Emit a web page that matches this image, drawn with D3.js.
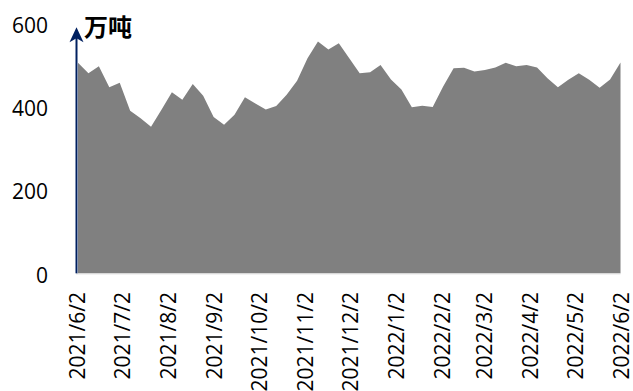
<!DOCTYPE html>
<html>
<head>
<meta charset="utf-8">
<script src="https://cdn.jsdelivr.net/npm/d3@7"></script>
<style>
  html, body { margin: 0; padding: 0; background: #fff; }
  svg { display: block; }
</style>
</head>
<body>
<svg id="chart" width="633" height="391"></svg>
<script>
// Weekly observations (万吨)
const dates = [
  "2021-06-02","2021-06-09","2021-06-16","2021-06-23","2021-06-30",
  "2021-07-07","2021-07-14","2021-07-21","2021-07-28",
  "2021-08-04","2021-08-11","2021-08-18","2021-08-25",
  "2021-09-01","2021-09-08","2021-09-15","2021-09-22","2021-09-29",
  "2021-10-06","2021-10-13","2021-10-20","2021-10-27",
  "2021-11-03","2021-11-10","2021-11-17","2021-11-24",
  "2021-12-01","2021-12-08","2021-12-15","2021-12-22","2021-12-29",
  "2022-01-05","2022-01-12","2022-01-19","2022-01-26",
  "2022-02-02","2022-02-09","2022-02-16","2022-02-23",
  "2022-03-02","2022-03-09","2022-03-16","2022-03-23","2022-03-30",
  "2022-04-06","2022-04-13","2022-04-20","2022-04-27",
  "2022-05-04","2022-05-11","2022-05-18","2022-05-25",
  "2022-06-01"
];
const values = [
  506, 481, 498, 447, 458,
  391, 373, 352, 393,
  435, 417, 455, 427,
  376, 357, 381, 423, 408,
  394, 402, 429, 463,
  517, 557, 538, 553,
  517, 481, 483, 501, 466,
  442, 399, 403, 400,
  449, 493, 494, 485,
  489, 495, 506, 498, 501,
  495, 469, 447, 465,
  481, 465, 446, 466,
  507
];
const xTickLabels = [
  "2021/6/2","2021/7/2","2021/8/2","2021/9/2","2021/10/2","2021/11/2",
  "2021/12/2","2022/1/2","2022/2/2","2022/3/2","2022/4/2","2022/5/2","2022/6/2"
];
const yTicks = [0, 200, 400, 600];
const unitLabel = "万吨";

const parseIso = d3.timeParse("%Y-%m-%d");
const parseTick = d3.timeParse("%Y/%m/%d");
const series = dates.map((d, i) => ({ date: parseIso(d), value: values[i] }));
const tickDates = xTickLabels.map(parseTick);

const svg = d3.select("#chart");
const font = "'Open Sans', 'Liberation Sans', sans-serif";

const x = d3.scaleTime()
  .domain([tickDates[0], tickDates[tickDates.length - 1]])
  .range([78, 622]);
const y = d3.scaleLinear().domain([0, 600]).range([273.3, 23.7]);

// filled area
const area = d3.area()
  .x(d => x(d.date))
  .y0(y(0))
  .y1(d => y(d.value));
svg.append("path")
  .datum(series)
  .attr("d", area)
  .attr("fill", "#808080");

// horizontal baseline
svg.append("line")
  .attr("x1", 76).attr("x2", x(series[series.length - 1].date))
  .attr("y1", y(0) + 0.5).attr("y2", y(0) + 0.5)
  .attr("stroke", "#d4d4d4").attr("stroke-width", 1);

// y axis tick labels
const yAxis = d3.axisLeft(y).tickValues(yTicks).tickSize(0).tickPadding(0);
const yg = svg.append("g").attr("transform", "translate(48,0)").call(yAxis);
yg.select(".domain").remove();
yg.selectAll("text")
  .attr("font-family", font)
  .attr("font-size", 21)
  .attr("fill", "#000")
  .attr("dy", "0.42em");

// x axis with rotated date labels
const xAxis = d3.axisBottom(x).tickValues(tickDates).tickSize(0).tickPadding(0)
  .tickFormat((d, i) => xTickLabels[i]);
const xg = svg.append("g").attr("transform", "translate(0,292)").call(xAxis);
xg.select(".domain").remove();
xg.selectAll(".tick text")
  .attr("font-family", font)
  .attr("font-size", 21)
  .attr("fill", "#000")
  .attr("text-anchor", "end")
  .attr("y", 0)
  .attr("dy", 0)
  .attr("transform", "translate(6.5,0) rotate(-90)");

// y axis line with arrowhead
const axisX = 76.5;
const tipY = 27.3;
svg.append("line")
  .attr("x1", axisX).attr("x2", axisX)
  .attr("y1", y(0)).attr("y2", tipY + 8)
  .attr("stroke", "#002060").attr("stroke-width", 2);
svg.append("path")
  .attr("d", `M${axisX},${tipY} L${axisX + 7},${tipY + 15} L${axisX},${tipY + 11} L${axisX - 7},${tipY + 15} Z`)
  .attr("fill", "#002060");

// unit label
svg.append("text")
  .attr("x", 84).attr("y", 36)
  .attr("font-family", "'Noto Sans CJK SC', sans-serif")
  .attr("font-weight", "bold")
  .attr("font-size", 24)
  .attr("fill", "#000")
  .text(unitLabel);
</script>
</body>
</html>
